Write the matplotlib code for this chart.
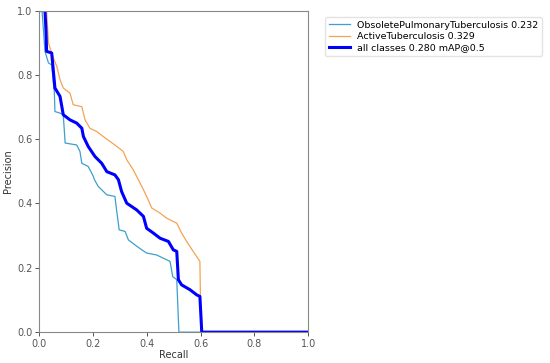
import matplotlib
matplotlib.use("Agg")
from matplotlib import pyplot as plt

# PR curve: ObsoletePulmonaryTuberculosis
rec_obs = [0.0, 0.010, 0.021, 0.034, 0.046, 0.056, 0.058, 0.077, 0.089, 0.096, 0.139, 0.151,
           0.158, 0.182, 0.201, 0.205, 0.219, 0.251, 0.281, 0.288, 0.297, 0.319, 0.331, 0.356,
           0.381, 0.399, 0.436, 0.461, 0.486, 0.496, 0.511, 0.519, 1.0]
prec_obs = [1.0, 1.0, 0.873, 0.837, 0.831, 0.743, 0.686, 0.681, 0.676, 0.588, 0.582, 0.562,
            0.525, 0.515, 0.484, 0.474, 0.453, 0.427, 0.422, 0.375, 0.318, 0.313, 0.287, 0.271,
            0.256, 0.246, 0.240, 0.230, 0.220, 0.173, 0.163, 0.0, 0.0]

# PR curve: ActiveTuberculosis
rec_act = [0.0, 0.027, 0.034, 0.050, 0.065, 0.077, 0.089, 0.114, 0.126, 0.158, 0.170, 0.188,
           0.213, 0.238, 0.263, 0.312, 0.325, 0.349, 0.362, 0.387, 0.405, 0.418, 0.449, 0.474,
           0.511, 0.529, 0.548, 0.572, 0.597, 0.601, 1.0]
prec_act = [1.0, 1.0, 0.899, 0.857, 0.826, 0.785, 0.759, 0.743, 0.707, 0.701, 0.660, 0.634,
            0.624, 0.608, 0.593, 0.562, 0.536, 0.505, 0.484, 0.443, 0.411, 0.386, 0.370, 0.354,
            0.339, 0.308, 0.282, 0.251, 0.220, 0.0, 0.0]

# all classes (mean)
rec_all = [0.0, 0.021, 0.025, 0.027, 0.046, 0.058, 0.077, 0.089, 0.114, 0.139, 0.158, 0.164,
           0.182, 0.207, 0.232, 0.251, 0.281, 0.294, 0.306, 0.325, 0.362, 0.387, 0.399, 0.424,
           0.449, 0.480, 0.498, 0.511, 0.517, 0.529, 0.560, 0.585, 0.597, 0.604, 1.0]
prec_all = [1.0, 1.0, 0.933, 0.873, 0.868, 0.759, 0.733, 0.676, 0.660, 0.650, 0.634, 0.608,
            0.577, 0.546, 0.525, 0.499, 0.489, 0.474, 0.437, 0.401, 0.380, 0.360, 0.323, 0.308,
            0.292, 0.282, 0.256, 0.251, 0.163, 0.147, 0.132, 0.116, 0.111, 0.0, 0.0]

labels = ["ObsoletePulmonaryTuberculosis 0.232", "ActiveTuberculosis 0.329",
          "all classes 0.280 mAP@0.5"]

fig = plt.figure(figsize=(5.5, 3.63), dpi=100)
ax = fig.add_axes([0.0715, 0.085, 0.489, 0.886])

ax.plot(rec_obs, prec_obs, color="#3d9fd0", lw=0.9, label=labels[0])
ax.plot(rec_act, prec_act, color="#f6a254", lw=0.9, label=labels[1])
ax.plot(rec_all, prec_all, color="blue", lw=2.2, label=labels[2])

ax.set_xlim(0, 1)
ax.set_ylim(0, 1)
ax.set_xlabel("Recall", fontsize=7, color="#333333", labelpad=1)
ax.set_ylabel("Precision", fontsize=7, color="#333333", labelpad=3)
ax.tick_params(labelsize=7, colors="#555555", length=3, width=0.7, pad=2)
for s in ax.spines.values():
    s.set_color("#888888")
    s.set_linewidth(0.8)

ax.legend(loc="upper left", bbox_to_anchor=(1.045, 0.995), fontsize=6.8,
          frameon=True, handlelength=2.2, borderpad=0.4, labelspacing=0.25,
          edgecolor="#dddddd")

fig.savefig("out.png", dpi=100)
